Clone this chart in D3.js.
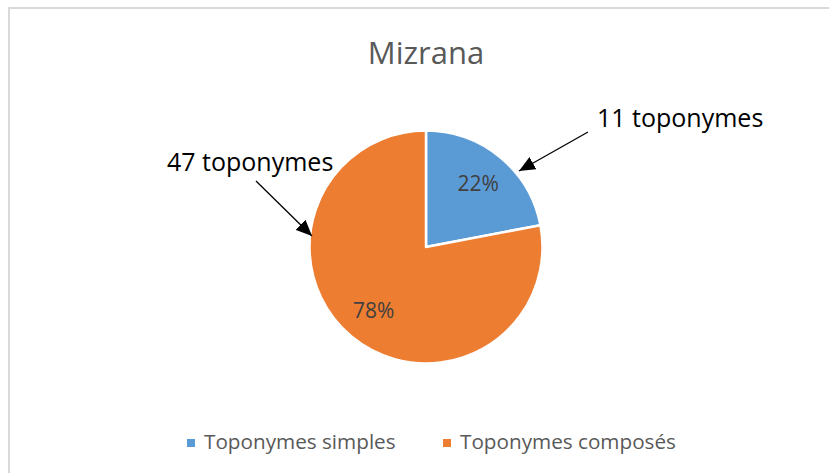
<!DOCTYPE html>
<html>
<head>
<meta charset="utf-8">
<script src="https://cdn.jsdelivr.net/npm/d3@7"></script>
<style>
  body { margin: 0; background: #fff; }
  text { font-family: 'Open Sans', sans-serif; }
</style>
</head>
<body>
<script>
// data
const categories = ['Toponymes simples', 'Toponymes composés'];
const percents = [22, 78];
const counts = [11, 47];
const title = 'Mizrana';

// config
const config = {
  width: 829,
  height: 473,
  cx: 426,
  cy: 247,
  radius: 116.5,
  labelRadius: 82,
  blue: '#5B9BD5',
  orange: '#ED7D31',
};

const colors = d3.scaleOrdinal().domain(categories).range([config.blue, config.orange]);

// where each callout text sits and where its arrow starts / ends
const callouts = [
  { x: 597, y: 127, from: [588, 132], to: [519, 171] },
  { x: 167, y: 171, from: [256, 181], to: [312, 236] },
];

const svg = d3.select('body').append('svg')
  .attr('width', config.width)
  .attr('height', config.height);

// chart border (only top and left visible in the crop)
svg.append('rect')
  .attr('x', 9).attr('y', 8)
  .attr('width', 840).attr('height', 480)
  .attr('fill', 'none')
  .attr('stroke', '#d9d9d9')
  .attr('stroke-width', 2);

svg.append('text')
  .attr('x', config.cx).attr('y', 64)
  .attr('text-anchor', 'middle')
  .attr('fill', '#595959')
  .style('font-size', '31px')
  .text(title);

const pie = d3.pie().sort(null).value((d) => d.value);
const slices = pie(categories.map((c, i) => ({ name: c, value: percents[i], count: counts[i] })));

const arc = d3.arc().innerRadius(0).outerRadius(config.radius);
const labelArc = d3.arc().innerRadius(config.labelRadius).outerRadius(config.labelRadius);

const g = svg.append('g')
  .attr('transform', `translate(${config.cx},${config.cy})`);

g.selectAll('.slice')
  .data(slices)
  .enter().append('path')
  .attr('class', 'slice')
  .attr('d', arc)
  .attr('fill', (d) => colors(d.data.name))
  .attr('stroke', '#fff')
  .attr('stroke-width', 2.5)
  .attr('stroke-linejoin', 'round');

g.selectAll('.pct')
  .data(slices)
  .enter().append('text')
  .attr('class', 'pct')
  .attr('transform', (d) => `translate(${labelArc.centroid(d)})`)
  .attr('text-anchor', 'middle')
  .attr('dy', '0.36em')
  .attr('fill', '#404040')
  .style('font-size', '21px')
  .text((d) => d.data.value + '%');

// arrow head
svg.append('defs').append('marker')
  .attr('id', 'arrow')
  .attr('markerUnits', 'userSpaceOnUse')
  .attr('viewBox', '0 0 16 14')
  .attr('refX', 16).attr('refY', 7)
  .attr('markerWidth', 16).attr('markerHeight', 14)
  .attr('orient', 'auto')
  .append('path')
  .attr('d', 'M0,0 L16,7 L0,14 Z')
  .attr('fill', '#000');

svg.selectAll('.callLine')
  .data(slices)
  .enter().append('line')
  .attr('class', 'callLine')
  .attr('x1', (d, i) => callouts[i].from[0])
  .attr('y1', (d, i) => callouts[i].from[1])
  .attr('x2', (d, i) => callouts[i].to[0])
  .attr('y2', (d, i) => callouts[i].to[1])
  .attr('stroke', '#000')
  .attr('stroke-width', 1.3)
  .attr('marker-end', 'url(#arrow)');

svg.selectAll('.callText')
  .data(slices)
  .enter().append('text')
  .attr('class', 'callText')
  .attr('x', (d, i) => callouts[i].x)
  .attr('y', (d, i) => callouts[i].y)
  .attr('fill', '#000')
  .style('font-size', '25px')
  .text((d) => d.data.count + ' toponymes');

// legend
const legendX = [187, 443];
const legend = svg.selectAll('.legend')
  .data(categories)
  .enter().append('g')
  .attr('class', 'legend')
  .attr('transform', (d, i) => `translate(${legendX[i]},439)`);

legend.append('rect')
  .attr('width', 8).attr('height', 8)
  .attr('fill', (d) => colors(d));

legend.append('text')
  .attr('x', 17).attr('y', 10)
  .attr('fill', '#595959')
  .style('font-size', '20.7px')
  .text((d) => d);
</script>
</body>
</html>
